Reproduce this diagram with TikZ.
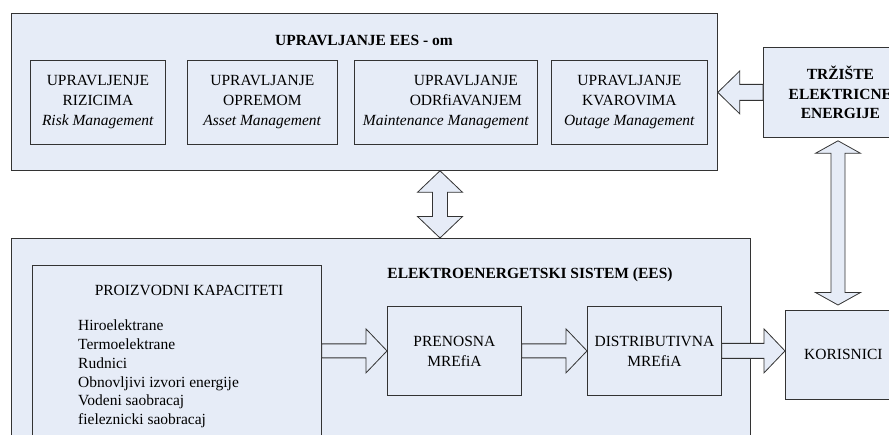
\documentclass[tikz,border=0pt]{standalone}
\usepackage{fontspec}
\setmainfont{Liberation Serif}
\usetikzlibrary{calc, positioning}
\definecolor{panel}{RGB}{230,236,247}
\tikzstyle{block}=[draw=black!80, line width=0.8pt, fill=panel, rectangle, inner sep=0pt]
\tikzstyle{txt}=[font=\fontsize{15.5}{20}\selectfont, align=center]
\tikzstyle{titletxt}=[font=\fontsize{15.5}{19.5}\selectfont\bfseries, align=center]
\tikzstyle{arrowfill}=[draw=black!80, line width=0.8pt, fill=panel]
\tikzset{
  sarrow/.style n args={3}{arrowfill, to path={
    let \p1=(\tikztostart), \p2=(\tikztotarget), \p3=($(\p2)!#3!(\p1)$) in
    ($(\p1)!#1!90:(\p2)$) -- ($(\p3)!#1!90:(\p2)$) -- ($(\p3)!#2!90:(\p2)$) -- (\p2)
    -- ($(\p3)!#2!-90:(\p2)$) -- ($(\p3)!#1!-90:(\p2)$) -- ($(\p1)!#1!-90:(\p2)$) -- cycle}},
  darrow/.style n args={3}{arrowfill, to path={
    let \p1=(\tikztostart), \p2=(\tikztotarget),
        \p3=($(\p1)!#3!(\p2)$), \p4=($(\p2)!#3!(\p1)$) in
    (\p1) -- ($(\p3)!#2!90:(\p2)$) -- ($(\p3)!#1!90:(\p2)$)
    -- ($(\p4)!#1!90:(\p2)$) -- ($(\p4)!#2!90:(\p2)$) -- (\p2)
    -- ($(\p4)!#2!-90:(\p2)$) -- ($(\p4)!#1!-90:(\p2)$)
    -- ($(\p3)!#1!-90:(\p2)$) -- ($(\p3)!#2!-90:(\p2)$) -- cycle}}
}

\begin{document}
\begin{tikzpicture}[x=1pt, y=-1pt]
	\useasboundingbox (0,0) rectangle (889,435);
	\clip (0,0) rectangle (889,435);
	% upper panel
	\node[block, anchor=north west, minimum width=706pt, minimum height=157pt] (mgmt) at (11,13) {};
	\node[titletxt] (mgmttitle) at (364,40) {UPRAVLJANJE EES - om};
	\node[block, txt, anchor=north west, minimum width=135pt, minimum height=84pt] (risk) at (30,60) {UPRAVLJENJE\\RIZICIMA\\\textit{Risk Management}};
	\node[block, txt, anchor=north west, minimum width=150pt, minimum height=84pt] (asset) at (187,60) {UPRAVLJANJE\\OPREMOM\\\textit{Asset Management}};
	\node[block, txt, anchor=north west, minimum width=183pt, minimum height=84pt] (maint) at (354,60) {\hspace*{40pt}UPRAVLJANJE\\\hspace*{40pt}ODRfiAVANJEM\\\textit{Maintenance Management}};
	\node[block, txt, anchor=north west, minimum width=156pt, minimum height=84pt] (outage) at (551,60) {UPRAVLJANJE\\KVAROVIMA\hspace*{11pt}\\\textit{Outage Management}};
	% market
	\node[block, titletxt, anchor=north west, minimum width=154pt, minimum height=90pt] (market) at (763,47) {TRŽIŠTE\\ELEKTRICNE\\ENERGIJE};
	% lower panel
	\node[block, anchor=north west, minimum width=739pt, minimum height=240pt] (ees) at (11,238) {};
	\node[titletxt] (eestitle) at (530,275) {ELEKTROENERGETSKI SISTEM (EES)};
	\node[block, anchor=north west, minimum width=289pt, minimum height=210pt] (prod) at (32,265) {};
	\node[txt] (prodtitle) at (189,290) {PROIZVODNI KAPACITETI};
	\node[txt, align=left, anchor=west, inner sep=0pt, font=\fontsize{15.5}{18.8}\selectfont] (plants) at (78,374) {Hiroelektrane\\Termoelektrane\\Rudnici\\Obnovljivi izvori energije\\Vodeni saobracaj\\fieleznicki saobracaj};
	\node[block, txt, anchor=north west, minimum width=134pt, minimum height=89pt] (trans) at (387,306) {PRENOSNA\\MREfiA};
	\node[block, txt, anchor=north west, minimum width=134pt, minimum height=89pt] (dist) at (587,306) {DISTRIBUTIVNA\\MREfiA};
	\node[block, txt, anchor=north west, minimum width=116pt, minimum height=89pt] (users) at (785,310) {KORISNICI};
	\coordinate (link) at (440,204);
	\coordinate (marketlink) at (838,220);
	% block arrows
	\draw[sarrow={7pt}{22pt}{21pt}] (prod.east |- trans.west) to (trans.west);
	\draw[sarrow={7pt}{22pt}{21pt}] (trans.east) to (dist.west);
	\draw[sarrow={7.5pt}{22pt}{21pt}] (dist.east) to (users.west |- dist.east);
	\draw[sarrow={8pt}{21.5pt}{22pt}] (market.west) to (mgmt.east |- market.west);
	\draw[darrow={7.5pt}{22.5pt}{21.5pt}] (mgmt.south -| link) to (ees.north -| link);
	\draw[darrow={7pt}{22.5pt}{12.5pt}] ($(market.south -| marketlink)+(0,3)$) to ($(users.north -| marketlink)+(0,-5)$);
\end{tikzpicture}
\end{document}
